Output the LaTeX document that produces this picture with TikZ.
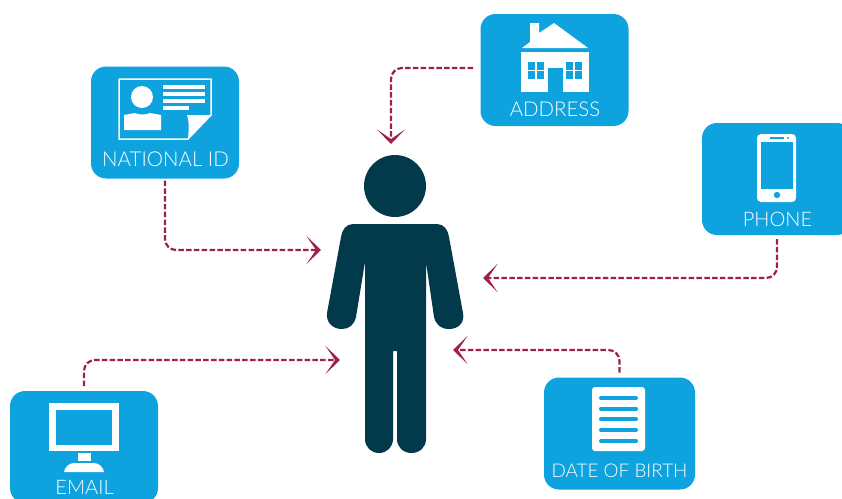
\documentclass[tikz,border=0pt]{standalone}
\usepackage{fontspec}
\setmainfont{Lato}[UprightFont=*-Light]
\usetikzlibrary{arrows.meta}
\definecolor{cardblue}{RGB}{14,163,222}
\definecolor{persondark}{RGB}{3,58,75}
\definecolor{linkred}{RGB}{158,33,70}
\tikzset{
	card/.style={fill=cardblue,rounded corners=15pt,minimum width=#1,minimum height=112pt,inner sep=0pt,outer sep=0pt},
	card/.default=148pt,
	cardtext/.style={text=white,font=\fontsize{#1}{20}\selectfont,inner sep=0pt},
	cardtext/.default=20,
	link/.style={draw=linkred,line width=2.2pt,dash pattern=on 5.5pt off 2.3pt,rounded corners=11pt,
		-{Stealth[length=14.5pt,width=28pt,inset=9.5pt,linkred]}},
	icon/.style={fill=white},
	hole/.style={fill=cardblue},
}
\begin{document}
\begin{tikzpicture}[x=1pt,y=-1pt]
	\useasboundingbox (0,0) rectangle (842,498);
	\node[card] (natid) at (165,122.5) {};
	\node[card] (address) at (554.5,70) {};
	\node[card=150pt] (phone) at (777,179) {};
	\node[card] (email) at (84,447) {};
	\node[card=151pt] (birth) at (619.5,433.5) {};
	\node[cardtext=20.5] (natidtext) at (165.5,159) {NATIONAL ID};
	\node[cardtext=20.4] (addresstext) at (555,109) {ADDRESS};
	\node[cardtext] (phonetext) at (777.5,219) {PHONE};
	\node[cardtext] (emailtext) at (84.5,487.5) {EMAIL};
	\node[cardtext=18.9] (birthtext) at (619.5,470.5) {DATE OF BIRTH};
	%person
	\fill[persondark] (395,186) circle[radius=31pt];
	\fill[persondark] (353,224) -- (437,224) .. controls (444,224) and (448,230) .. (449,237)
		-- (463,313) .. controls (465,323) and (458,329) .. (449,329) .. controls (441,329) and (436,325) .. (434,317)
		-- (426,262) -- (426,439) .. controls (426,447) and (420,453) .. (411.5,453) .. controls (403,453) and (397,447) .. (397,439)
		-- (397,351) -- (393,351) -- (393,439) .. controls (393,447) and (387,453) .. (379,453) .. controls (371,453) and (365,447) .. (365,439)
		-- (365,262) -- (356,317) .. controls (354,325) and (349,329) .. (342,329) .. controls (333,329) and (326,323) .. (327,313)
		-- (341,237) .. controls (342,230) and (346,224) .. (353,224) -- cycle;
	%links
	\coordinate (natidin) at (321,250);
	\coordinate (addressin) at (391,144);
	\coordinate (phonein) at (483,278);
	\coordinate (emailin) at (340,360);
	\coordinate (birthin) at (453,350);
	\coordinate (addressout) at (473,68);
	\draw[link] ([yshift=-2pt]natid.south) |- (natidin);
	\draw[link] (addressout) -| (addressin);
	\draw[link] ([yshift=-4pt]phone.south) |- (phonein);
	\draw[link] ([yshift=5pt]email.north) |- (emailin);
	\draw[link] ([yshift=5pt]birth.north) |- (birthin);
	%id icon
	\draw[white,line width=1.5pt,line join=round] (119,79) -- (211,79) -- (211,115) -- (188,139) -- (119,139) -- cycle;
	\fill[icon] (142,97) circle[radius=11pt];
	\fill[icon] (124,130) -- (124,115) -- (135,113) .. controls (138,115) and (146,115) .. (150,113) -- (161,115) -- (161,130) -- cycle;
	\foreach \ly/\lx in {85/205,92/205,99/205,106/189}
		\fill[icon] (163,\ly) rectangle (\lx,\ly+4);
	\fill[icon] (187,115) -- (211,115) -- (188,139) .. controls (189,128) and (189,120) .. (187,115) -- cycle;
	%house icon
	\fill[icon] (530,23) -- (539,23) -- (539,33) -- (554,23) -- (588,48) -- (522,48) -- (530,42) -- cycle;
	\fill[icon] (521,52) rectangle (589,92);
	\fill[hole] (548,68) rectangle (563,92);
	\foreach \wx in {528,566}{
		\fill[hole] (\wx,62) rectangle (\wx+16,79);
		\fill[icon] (\wx+7.2,62) rectangle (\wx+8.8,79);
		\fill[icon] (\wx,69.7) rectangle (\wx+16,71.3);
	}
	%phone icon
	\fill[icon,rounded corners=4pt] (757,134) rectangle (796,202);
	\fill[hole] (761,142) rectangle (793,189);
	\fill[hole] (777,195) circle[radius=3.2pt];
	\fill[hole] (770,137.3) rectangle (784,138.7);
	\fill[hole] (788,138) circle[radius=1.1pt];
	%monitor icon
	\fill[icon] (49,403) rectangle (119,451);
	\fill[hole] (56,410) rectangle (112,445);
	\fill[icon] (78,453) rectangle (91,461);
	\fill[icon] (64,472) .. controls (65,467) and (69,463) .. (74,463) -- (94,463) .. controls (99,463) and (103,467) .. (104,472) -- cycle;
	%document icon
	\fill[icon,rounded corners=3pt] (592,387) rectangle (645,451);
	\foreach \ly in {398,408.7,419.3,430,441}
		\draw[cardblue,line width=4pt,line cap=round] (601,\ly) -- (636,\ly);
\end{tikzpicture}
\end{document}
